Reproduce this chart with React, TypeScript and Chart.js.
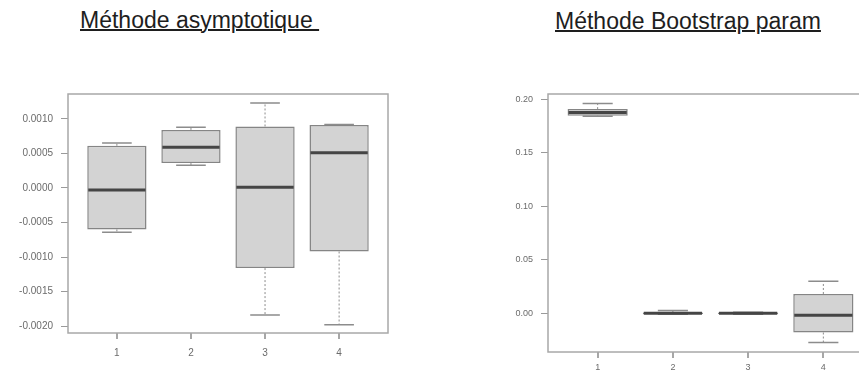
import React, { useEffect, useRef } from "react";
import { Chart, registerables } from "chart.js";

Chart.register(...registerables);

// ---- Data ----
const GROUPS = [1, 2, 3, 4];
const GROUP_LABELS = ["1", "2", "3", "4"];

// Méthode asymptotique
const ASYM_LOW = [-0.00064, 0.00033, -0.00184, -0.00198];
const ASYM_Q1 = [-0.0006, 0.00036, -0.00116, -0.00092];
const ASYM_MED = [-0.00003, 0.00059, 0.00001, 0.00051];
const ASYM_Q3 = [0.00061, 0.00084, 0.00089, 0.00091];
const ASYM_HIGH = [0.00065, 0.00088, 0.00123, 0.00092];
const ASYM_TICKS = [-0.002, -0.0015, -0.001, -0.0005, 0, 0.0005, 0.001];
const ASYM_TICK_LABELS = ["-0.0020", "-0.0015", "-0.0010", "-0.0005", "0.0000", "0.0005", "0.0010"];

// Méthode Bootstrap param
const BOOT_LOW = [0.184, -0.001, -0.001, -0.0273];
const BOOT_Q1 = [0.1845, -0.0008, -0.0007, -0.018];
const BOOT_MED = [0.1876, 0, 0, -0.0019];
const BOOT_Q3 = [0.1907, 0.0008, 0.0007, 0.018];
const BOOT_HIGH = [0.1959, 0.0025, 0.001, 0.03];
const BOOT_TICKS = [0, 0.05, 0.1, 0.15, 0.2];
const BOOT_TICK_LABELS = ["0.00", "0.05", "0.10", "0.15", "0.20"];

const FONT = "'Liberation Sans', Arial, sans-serif";

type Stats = { low: number[]; q1: number[]; med: number[]; q3: number[]; high: number[] };

function boxExtras(stats: Stats) {
  return {
    id: "boxExtras",
    beforeDatasetsDraw(chart: any) {
      const { ctx, scales } = chart;
      const x = scales.x, y = scales.y;
      ctx.save();
      GROUPS.forEach((g, i) => {
        const px = x.getPixelForValue(g);
        const half = x.getPixelForValue(g + 0.2) - px;
        const yl = y.getPixelForValue(stats.low[i]);
        const yq1 = y.getPixelForValue(stats.q1[i]);
        const yq3 = y.getPixelForValue(stats.q3[i]);
        const yh = y.getPixelForValue(stats.high[i]);
        ctx.strokeStyle = "#8c8c8c";
        ctx.lineWidth = 1;
        ctx.setLineDash([2, 2]);
        ctx.beginPath();
        ctx.moveTo(px, yq3);
        ctx.lineTo(px, yh);
        ctx.moveTo(px, yq1);
        ctx.lineTo(px, yl);
        ctx.stroke();
        ctx.setLineDash([]);
        ctx.lineWidth = 1.5;
        ctx.beginPath();
        ctx.moveTo(px - half, yh);
        ctx.lineTo(px + half, yh);
        ctx.moveTo(px - half, yl);
        ctx.lineTo(px + half, yl);
        ctx.stroke();
      });
      ctx.restore();
    },
    afterDraw(chart: any) {
      const { ctx, scales, chartArea } = chart;
      const x = scales.x, y = scales.y;
      ctx.save();
      GROUPS.forEach((g, i) => {
        const px = x.getPixelForValue(g);
        const half = x.getPixelForValue(g + 0.4) - px;
        const ym = y.getPixelForValue(stats.med[i]);
        ctx.strokeStyle = "#454545";
        ctx.lineWidth = 3;
        ctx.beginPath();
        ctx.moveTo(px - half + 1, ym);
        ctx.lineTo(px + half - 1, ym);
        ctx.stroke();
      });
      // x-axis tick marks
      ctx.strokeStyle = "#8a8a8a";
      ctx.lineWidth = 1.5;
      ctx.beginPath();
      GROUPS.forEach((g) => {
        const px = Math.round(x.getPixelForValue(g));
        ctx.moveTo(px, chartArea.bottom);
        ctx.lineTo(px, chartArea.bottom + 6);
      });
      ctx.stroke();
      ctx.strokeStyle = "#a8a8a8";
      ctx.lineWidth = 1.5;
      ctx.strokeRect(chartArea.left, chartArea.top, chartArea.right - chartArea.left, chartArea.bottom - chartArea.top);
      ctx.restore();
    },
  };
}

function makeConfig(
  stats: Stats,
  ticks: number[],
  tickLabels: string[],
  yMin: number,
  yMax: number,
  padding: any,
  xAxisHeight: number,
  yFont: number,
  xPad: number
) {
  return {
    type: "bar",
    data: {
      datasets: [
        {
          data: GROUPS.map((g, i) => ({ x: g, y: [stats.q1[i], stats.q3[i]] })),
          backgroundColor: "#d3d3d3",
          borderColor: "#858585",
          borderWidth: 1.5,
          borderSkipped: false,
          barPercentage: 0.8,
          categoryPercentage: 1,
        },
      ],
    },
    options: {
      responsive: false,
      animation: false,
      events: [],
      layout: { padding },
      plugins: { legend: { display: false }, tooltip: { enabled: false }, title: { display: false } },
      scales: {
        x: {
          type: "linear",
          min: 0.34,
          max: 4.66,
          offset: false,
          afterBuildTicks: (axis: any) => {
            axis.ticks = GROUPS.map((v) => ({ value: v }));
          },
          afterFit: (axis: any) => {
            axis.height = xAxisHeight;
          },
          grid: { display: false, drawTicks: false },
          border: { display: false },
          ticks: {
            autoSkip: false,
            maxRotation: 0,
            padding: xPad,
            color: "#6b6b6b",
            font: { family: FONT, size: yFont },
            callback: (v: number) => GROUP_LABELS[GROUPS.indexOf(v)],
          },
        },
        y: {
          type: "linear",
          min: yMin,
          max: yMax,
          afterBuildTicks: (axis: any) => {
            axis.ticks = ticks.map((v) => ({ value: v }));
          },
          afterFit: (axis: any) => {
            axis.width = 60;
          },
          grid: { display: true, offset: false, drawOnChartArea: false, drawTicks: true, tickLength: 7, color: "#9a9a9a" },
          border: { display: false },
          ticks: {
            autoSkip: false,
            padding: 8,
            color: "#6b6b6b",
            font: { family: FONT, size: yFont },
            callback: (v: number) => tickLabels[ticks.indexOf(v)],
          },
        },
      },
    },
    plugins: [boxExtras(stats)],
  };
}

function BoxChart(props: { config: any; left: number; top: number; width: number; height: number }) {
  const ref = useRef<HTMLCanvasElement | null>(null);
  useEffect(() => {
    if (!ref.current) return;
    const chart = new Chart(ref.current, props.config);
    return () => chart.destroy();
  }, []);
  return (
    <div style={{ position: "absolute", left: props.left, top: props.top, width: props.width, height: props.height }}>
      <canvas ref={ref} width={props.width} height={props.height} style={{ width: props.width, height: props.height, display: "block" }} />
    </div>
  );
}

const titleStyle: React.CSSProperties = {
  position: "absolute",
  fontFamily: FONT,
  fontSize: 23,
  lineHeight: "23px",
  color: "#1e1e1e",
  textDecoration: "underline",
  textDecorationThickness: "2px",
  whiteSpace: "pre",
};

export default function App() {
  const asym: Stats = { low: ASYM_LOW, q1: ASYM_Q1, med: ASYM_MED, q3: ASYM_Q3, high: ASYM_HIGH };
  const boot: Stats = { low: BOOT_LOW, q1: BOOT_Q1, med: BOOT_MED, q3: BOOT_Q3, high: BOOT_HIGH };
  const leftCfg = makeConfig(asym, ASYM_TICKS, ASYM_TICK_LABELS, -0.0021, 0.00136, { left: 8, right: 12, top: 12, bottom: 0 }, 42, 10, 14);
  const rightCfg = makeConfig(boot, BOOT_TICKS, BOOT_TICK_LABELS, -0.0362, 0.2048, { left: 8, right: 17, top: 14, bottom: 0 }, 28, 9, 10);
  return (
    <div style={{ position: "fixed", left: 0, top: 0, width: 859, height: 375, overflow: "hidden", background: "#fff" }}>
      <div style={{ ...titleStyle, left: 80, top: 9 }}>{"Méthode asymptotique\u00a0"}</div>
      <div style={{ ...titleStyle, left: 555, top: 10 }}>{"Méthode Bootstrap param"}</div>
      <BoxChart config={leftCfg} left={0} top={80} width={400} height={295} />
      <BoxChart config={rightCfg} left={480} top={80} width={410} height={300} />
    </div>
  );
}
